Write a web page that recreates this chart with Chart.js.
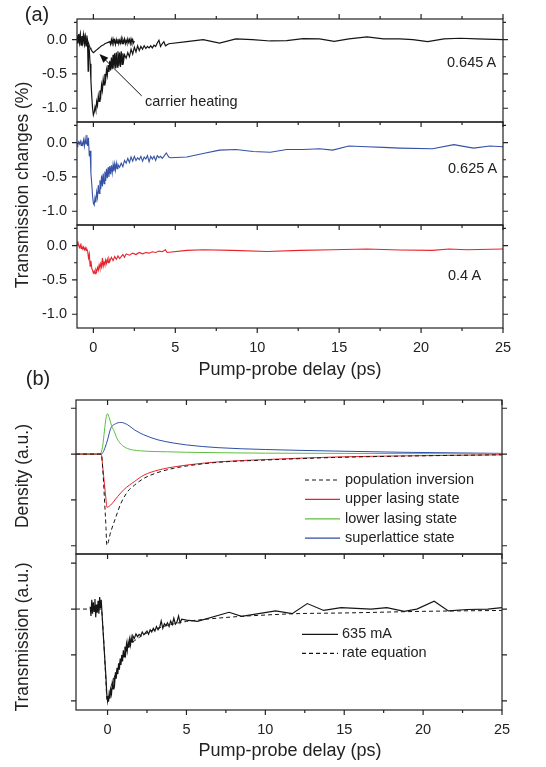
<!DOCTYPE html>
<html><head><meta charset="utf-8">
<script src="https://cdn.jsdelivr.net/npm/chart.js@4.4.1/dist/chart.umd.min.js"></script>
<style>
html,body{margin:0;padding:0;background:#fff;}
#wrap{position:relative;width:546px;height:767px;overflow:hidden;font-family:"Liberation Sans",Arial,sans-serif;color:#222;}
canvas{position:absolute;left:0;top:0;}
.t{position:absolute;white-space:nowrap;line-height:1;transform:translate(0,-50%);}
.c{position:absolute;white-space:nowrap;line-height:1;transform:translate(-50%,-50%);}
.rot{position:absolute;white-space:nowrap;line-height:1;transform:translate(-50%,-50%) rotate(-90deg);}
</style></head><body><div id="wrap">
<canvas id="cA1" width="546" height="767"></canvas>
<canvas id="cA2" width="546" height="767"></canvas>
<canvas id="cA3" width="546" height="767"></canvas>
<canvas id="cB1" width="546" height="767"></canvas>
<canvas id="cB2" width="546" height="767"></canvas>
<div class="c" style="left:37px;top:14px;font-size:20px">(a)</div>
<div class="c" style="left:38px;top:378px;font-size:20px">(b)</div>
<div class="rot" style="left:23px;top:185px;font-size:17.5px">Transmission changes (%)</div>
<div class="c" style="left:290px;top:369px;font-size:18px">Pump-probe delay (ps)</div>
<div class="rot" style="left:23px;top:476px;font-size:17.5px">Density (a.u.)</div>
<div class="rot" style="left:23px;top:637px;font-size:17.5px">Transmission (a.u.)</div>
<div class="c" style="left:290px;top:750px;font-size:18px">Pump-probe delay (ps)</div>
<div class="t" style="left:447px;top:62px;font-size:14.5px">0.645 A</div>
<div class="t" style="left:448px;top:168px;font-size:14.5px">0.625 A</div>
<div class="t" style="left:448px;top:275px;font-size:14.5px">0.4 A</div>
<div class="t" style="left:145px;top:101px;font-size:14.5px">carrier heating</div>
</div>
<script>
// ---------- tick values ----------
const xMajorTicks = [0, 5, 10, 15, 20, 25];
const xMinorTicks = [2.5, 7.5, 12.5, 17.5, 22.5];
const aYMajorTicks = [0, -0.5, -1.0];
const aYMinorTicks = [0.25, -0.25, -0.75];
const bYMajorTicks = [1, 0, -1, -2];

// ---------- series (ps, value) ----------
const a1Heating = [[-1,0.06],[-0.95,-0.05],[-0.9,0.08],[-0.85,-0.03],[-0.8,0.07],[-0.75,-0.06],[-0.7,0.05],[-0.65,-0.04],[-0.6,0.09],[-0.55,-0.05],[-0.5,0.04],[-0.45,-0.07],[-0.4,0.06],[-0.35,-0.02],[-0.3,-0.05],[-0.25,-0.09],[-0.2,-0.12],[-0.15,-0.14],[-0.1,-0.16],[-0.05,-0.18],[0,-0.19],[0.05,-0.18],[0.1,-0.17],[0.2,-0.15],[0.3,-0.13],[0.4,-0.11],[0.5,-0.09],[0.6,-0.08],[0.7,-0.06],[0.8,-0.05],[0.9,-0.04],[1.0,-0.03],[1.05,-0.07],[1.1,0.0],[1.15,-0.06],[1.2,0.01],[1.25,-0.05],[1.3,-0.01],[1.35,-0.07],[1.4,0.0],[1.45,-0.05],[1.5,0.01],[1.55,-0.06],[1.6,-0.01],[1.65,-0.05],[1.7,0.02],[1.75,-0.06],[1.8,0.0],[1.85,-0.04],[1.9,0.01],[1.95,-0.06],[2.0,-0.01],[2.05,-0.05],[2.1,0.01],[2.15,-0.04],[2.2,0.0],[2.25,-0.06],[2.3,0.01],[2.35,-0.04],[2.4,0.0],[2.45,-0.05],[2.5,-0.02]];
const a1Current645 = [[-1,0.04],[-0.95,-0.06],[-0.9,0.08],[-0.85,-0.04],[-0.8,0.06],[-0.75,-0.08],[-0.7,0.05],[-0.65,-0.03],[-0.6,0.07],[-0.55,-0.06],[-0.5,0.03],[-0.45,-0.09],[-0.4,0.02],[-0.35,-0.12],[-0.32,-0.46],[-0.3,-0.1],[-0.25,-0.15],[-0.2,-0.35],[-0.15,-0.6],[-0.1,-0.82],[-0.05,-1.0],[0,-1.1],[0.05,-1.06],[0.1,-0.98],[0.15,-1.03],[0.2,-0.9],[0.25,-0.96],[0.3,-0.82],[0.35,-0.9],[0.4,-0.74],[0.45,-0.82],[0.5,-0.66],[0.55,-0.74],[0.6,-0.58],[0.65,-0.66],[0.7,-0.5],[0.75,-0.58],[0.8,-0.44],[0.85,-0.52],[0.9,-0.37],[0.95,-0.47],[1.0,-0.31],[1.05,-0.45],[1.1,-0.26],[1.15,-0.43],[1.2,-0.22],[1.25,-0.41],[1.3,-0.2],[1.35,-0.42],[1.4,-0.19],[1.45,-0.4],[1.5,-0.17],[1.55,-0.38],[1.6,-0.19],[1.65,-0.4],[1.7,-0.17],[1.75,-0.36],[1.8,-0.2],[1.85,-0.3],[1.9,-0.22],[2.0,-0.27],[2.1,-0.19],[2.2,-0.25],[2.3,-0.14],[2.4,-0.21],[2.5,-0.11],[2.6,-0.18],[2.7,-0.09],[2.8,-0.16],[2.9,-0.1],[3.0,-0.14],[3.1,-0.09],[3.2,-0.13],[3.3,-0.1],[3.4,-0.12],[3.5,-0.09],[3.6,-0.12],[3.7,-0.08],[3.8,-0.1],[3.9,-0.05],[4.0,-0.01],[4.1,-0.1],[4.2,-0.06],[4.3,-0.03],[4.4,-0.09],[4.6,-0.06],[5.7,-0.03],[6.7,0.0],[7.7,-0.05],[8.7,0.01],[9.7,0.0],[10.8,-0.02],[11.8,-0.015],[12.8,0.015],[13.8,0.01],[14.7,-0.025],[15.6,0.01],[16.7,0.04],[17.7,0.01],[18.7,0.01],[19.5,0.0],[20.4,-0.03],[21.4,0.01],[22.4,0.02],[23.4,0.01],[25,0.0]];
const a2Current625 = [[-1,0.0],[-0.95,-0.03],[-0.9,0.01],[-0.85,-0.02],[-0.8,0.02],[-0.75,-0.04],[-0.7,0.0],[-0.65,-0.03],[-0.6,0.04],[-0.55,-0.05],[-0.5,0.06],[-0.45,-0.02],[-0.4,0.11],[-0.35,-0.05],[-0.3,0.07],[-0.25,-0.2],[-0.2,-0.12],[-0.15,-0.45],[-0.1,-0.6],[-0.05,-0.78],[0,-0.88],[0.05,-0.91],[0.1,-0.8],[0.15,-0.87],[0.2,-0.72],[0.25,-0.8],[0.3,-0.62],[0.35,-0.74],[0.4,-0.55],[0.45,-0.68],[0.5,-0.48],[0.55,-0.64],[0.6,-0.45],[0.65,-0.6],[0.7,-0.42],[0.75,-0.56],[0.8,-0.38],[0.85,-0.52],[0.9,-0.36],[0.95,-0.5],[1.0,-0.34],[1.05,-0.46],[1.1,-0.33],[1.15,-0.44],[1.2,-0.32],[1.25,-0.42],[1.3,-0.31],[1.35,-0.4],[1.4,-0.3],[1.45,-0.38],[1.5,-0.32],[1.6,-0.36],[1.7,-0.3],[1.8,-0.35],[1.9,-0.26],[2.0,-0.3],[2.1,-0.23],[2.2,-0.29],[2.3,-0.21],[2.4,-0.27],[2.5,-0.2],[2.6,-0.26],[2.7,-0.22],[2.8,-0.25],[2.9,-0.2],[3.0,-0.27],[3.1,-0.21],[3.2,-0.24],[3.3,-0.19],[3.4,-0.28],[3.5,-0.2],[3.6,-0.24],[3.7,-0.2],[3.8,-0.26],[3.9,-0.19],[4.0,-0.22],[4.1,-0.2],[4.2,-0.23],[4.3,-0.2],[4.45,-0.15],[4.6,-0.21],[4.7,-0.22],[5.7,-0.21],[6.7,-0.16],[7.7,-0.11],[8.7,-0.1],[9.75,-0.13],[10.8,-0.14],[11.8,-0.1],[12.8,-0.1],[13.8,-0.09],[14.6,-0.11],[15.6,-0.05],[16.7,-0.06],[17.7,-0.07],[18.7,-0.08],[20.7,-0.09],[22.0,-0.03],[23.2,-0.08],[24.2,-0.05],[25,-0.06]];
const a3Current400 = [[-1,0.01],[-0.95,0.06],[-0.9,0.0],[-0.85,-0.03],[-0.8,0.01],[-0.75,-0.04],[-0.7,-0.01],[-0.65,-0.05],[-0.6,-0.02],[-0.55,-0.06],[-0.5,-0.03],[-0.45,-0.07],[-0.4,-0.05],[-0.35,-0.08],[-0.3,-0.18],[-0.25,-0.12],[-0.2,-0.3],[-0.15,-0.22],[-0.1,-0.33],[-0.05,-0.36],[0,-0.4],[0.05,-0.37],[0.1,-0.41],[0.15,-0.35],[0.2,-0.38],[0.25,-0.32],[0.3,-0.36],[0.35,-0.28],[0.4,-0.33],[0.45,-0.26],[0.5,-0.31],[0.55,-0.18],[0.6,-0.3],[0.65,-0.24],[0.7,-0.28],[0.75,-0.21],[0.8,-0.26],[0.85,-0.2],[0.9,-0.25],[0.95,-0.19],[1.0,-0.23],[1.1,-0.17],[1.2,-0.22],[1.3,-0.16],[1.4,-0.2],[1.5,-0.15],[1.6,-0.19],[1.7,-0.16],[1.8,-0.13],[1.9,-0.17],[2.0,-0.12],[2.2,-0.14],[2.4,-0.11],[2.6,-0.13],[2.8,-0.1],[3.0,-0.12],[3.2,-0.1],[3.4,-0.11],[3.6,-0.09],[3.8,-0.1],[4.0,-0.08],[4.2,-0.09],[4.4,-0.06],[4.5,-0.1],[5.7,-0.07],[6.7,-0.06],[8.5,-0.07],[10.6,-0.085],[12.6,-0.07],[14.6,-0.06],[16.7,-0.05],[18.7,-0.065],[20.7,-0.07],[21.7,-0.05],[22.8,-0.06],[25,-0.05]];

const bInversion = [[-2,0],[-0.4,0],[-0.3,-0.35],[-0.2,-0.95],[-0.1,-1.6],[-0.05,-1.99],[0.2,-1.7],[0.53,-1.37],[0.84,-1.08],[1.27,-0.82],[1.7,-0.68],[2.3,-0.53],[3.2,-0.4],[4.2,-0.31],[5,-0.26],[7,-0.18],[10,-0.13],[14.3,-0.075],[18.6,-0.045],[25,-0.015]];
const bUpper = [[-2,0],[-0.4,0],[-0.3,-0.3],[-0.2,-0.65],[-0.1,-0.98],[-0.04,-1.16],[0.2,-1.11],[0.63,-0.93],[1.05,-0.77],[1.7,-0.6],[2.3,-0.46],[3.2,-0.35],[4.2,-0.28],[5,-0.24],[7,-0.17],[10,-0.12],[14.3,-0.065],[18.6,-0.04],[25,-0.015]];
const bLower = [[-2,0],[-0.5,0],[-0.4,0.04],[-0.3,0.2],[-0.2,0.5],[-0.1,0.78],[0,0.88],[0.1,0.8],[0.2,0.68],[0.3,0.58],[0.42,0.5],[0.6,0.34],[0.84,0.22],[1.05,0.16],[1.27,0.12],[1.6,0.09],[2.1,0.07],[3,0.055],[3.8,0.05],[5,0.04],[7,0.03],[10,0.02],[15,0.015],[20,0.01],[25,0.005]];
const bSuperlattice = [[-2,0],[-0.4,0],[-0.3,0.03],[-0.15,0.15],[0,0.31],[0.2,0.56],[0.5,0.66],[0.84,0.69],[1.27,0.64],[1.7,0.53],[2.3,0.42],[3.2,0.31],[4.2,0.24],[5,0.2],[7,0.14],[10,0.1],[14.4,0.066],[18.6,0.04],[25,0.015]];

const b2Measured = [[-1.1,0.05],[-1.05,-0.15],[-1.0,0.2],[-0.95,-0.1],[-0.9,0.15],[-0.85,-0.05],[-0.8,0.22],[-0.75,-0.18],[-0.7,0.1],[-0.65,-0.08],[-0.6,0.18],[-0.55,-0.1],[-0.5,0.26],[-0.45,0.02],[-0.4,0.2],[-0.3,-0.4],[-0.2,-0.95],[-0.1,-1.5],[-0.05,-1.85],[0,-2.0],[0.03,-1.9],[0.06,-2.02],[0.1,-1.85],[0.15,-1.95],[0.2,-1.75],[0.25,-1.85],[0.3,-1.62],[0.35,-1.74],[0.4,-1.5],[0.45,-1.62],[0.5,-1.38],[0.55,-1.52],[0.6,-1.28],[0.65,-1.42],[0.7,-1.18],[0.75,-1.32],[0.8,-1.08],[0.85,-1.22],[0.9,-1.0],[0.95,-1.14],[1.0,-0.9],[1.05,-1.04],[1.1,-0.82],[1.15,-0.96],[1.2,-0.76],[1.25,-0.9],[1.3,-0.72],[1.35,-0.84],[1.4,-0.66],[1.45,-0.78],[1.5,-0.62],[1.55,-0.72],[1.6,-0.58],[1.7,-0.64],[1.8,-0.54],[1.9,-0.6],[2.0,-0.55],[2.1,-0.58],[2.2,-0.5],[2.3,-0.56],[2.4,-0.52],[2.5,-0.48],[2.6,-0.55],[2.7,-0.45],[2.8,-0.5],[2.9,-0.42],[3.0,-0.48],[3.1,-0.38],[3.2,-0.45],[3.3,-0.4],[3.4,-0.26],[3.5,-0.42],[3.6,-0.32],[3.7,-0.36],[3.8,-0.3],[3.9,-0.38],[4.0,-0.26],[4.1,-0.34],[4.2,-0.2],[4.3,-0.33],[4.4,-0.28],[4.5,-0.15],[4.6,-0.3],[4.7,-0.22],[5.0,-0.24],[5.7,-0.27],[7.7,-0.07],[8.5,-0.16],[10.65,-0.04],[11.7,-0.1],[12.66,0.12],[13.7,-0.03],[14.8,0.03],[16.7,0.0],[17.7,0.03],[18.8,-0.05],[19.6,0.0],[20.7,0.17],[21.6,-0.04],[22.8,-0.01],[24.1,0.0],[25,0.03]];
const b2RateEquation = [[-2,0],[-0.4,0],[-0.3,-0.35],[-0.2,-0.95],[-0.1,-1.6],[-0.03,-2.0],[0.2,-1.72],[0.5,-1.42],[1.0,-1.02],[1.5,-0.76],[2.0,-0.62],[2.5,-0.52],[3.0,-0.44],[4.0,-0.34],[5.0,-0.27],[6.0,-0.23],[8.0,-0.17],[10.0,-0.13],[12.0,-0.1],[15.0,-0.085],[20.0,-0.05],[25.0,-0.03]];

// ---------- drawing ----------
const W = 546, H = 767;
const FONT = '"Liberation Sans", Arial, sans-serif';
Chart.defaults.font.family = FONT;
const AXIS = '#222';
const pts = arr => arr.map(p => ({x: p[0], y: p[1]}));

const framePlugin = {
  id: 'frame',
  afterDatasetsDraw(chart, args, o) {
    if (!o || !o.on) return;
    const ctx = chart.ctx, a = chart.chartArea, sx = chart.scales.x, sy = chart.scales.y;
    ctx.save();
    ctx.strokeStyle = AXIS; ctx.lineWidth = 1.2;
    ctx.strokeRect(a.left, a.top, a.right - a.left, a.bottom - a.top);
    ctx.beginPath();
    const xt = (list, len) => list.forEach(v => {
      const px = sx.getPixelForValue(v);
      ctx.moveTo(px, a.bottom); ctx.lineTo(px, a.bottom + len);
      if (o.top === 'out') { ctx.moveTo(px, a.top); ctx.lineTo(px, a.top - len); }
      if (o.top === 'in') { ctx.moveTo(px, a.top); ctx.lineTo(px, a.top + len); }
    });
    xt(xMajorTicks, 5); xt(xMinorTicks, 3);
    const yt = (list, len) => list.forEach(v => {
      const py = sy.getPixelForValue(v);
      ctx.moveTo(a.left, py); ctx.lineTo(a.left - len, py);
      ctx.moveTo(a.right, py); ctx.lineTo(a.right + len, py);
    });
    yt(o.yMajor, 5); yt(o.yMinor || [], 3);
    ctx.stroke();
    // arrow annotation (data coordinates)
    if (o.arrow) {
      const [x0, y0, x1, y1] = o.arrow;
      const p0 = [sx.getPixelForValue(x0), sy.getPixelForValue(y0)];
      const p1 = [sx.getPixelForValue(x1), sy.getPixelForValue(y1)];
      const ang = Math.atan2(p1[1] - p0[1], p1[0] - p0[0]);
      ctx.strokeStyle = '#111'; ctx.fillStyle = '#111'; ctx.lineWidth = 1;
      ctx.beginPath(); ctx.moveTo(p0[0], p0[1]);
      ctx.lineTo(p1[0] - 7 * Math.cos(ang), p1[1] - 7 * Math.sin(ang)); ctx.stroke();
      ctx.beginPath(); ctx.moveTo(p1[0], p1[1]);
      ctx.lineTo(p1[0] - 9 * Math.cos(ang) + 3.5 * Math.sin(ang), p1[1] - 9 * Math.sin(ang) - 3.5 * Math.cos(ang));
      ctx.lineTo(p1[0] - 9 * Math.cos(ang) - 3.5 * Math.sin(ang), p1[1] - 9 * Math.sin(ang) + 3.5 * Math.cos(ang));
      ctx.closePath(); ctx.fill();
    }
    // legend
    if (o.legend) {
      const L = o.legend;
      ctx.font = '14.5px ' + FONT; ctx.textBaseline = 'middle'; ctx.fillStyle = '#222';
      chart.data.datasets.forEach((d, i) => {
        const y = L.y + i * L.dy;
        ctx.beginPath(); ctx.strokeStyle = d.borderColor; ctx.lineWidth = 1.2;
        ctx.setLineDash(d.borderDash || []);
        ctx.moveTo(L.x, y); ctx.lineTo(L.x + L.len, y); ctx.stroke();
        ctx.setLineDash([]);
        ctx.fillText(d.label, L.x + L.len + L.gap, y);
      });
    }
    ctx.restore();
  }
};

function makePanel(id, c) {
  const xh = c.showX ? 30 : 0;
  return new Chart(document.getElementById(id), {
    type: 'line',
    data: { datasets: c.datasets },
    options: {
      responsive: false, animation: false, devicePixelRatio: 1,
      layout: { padding: { top: c.top, left: 0, right: W - c.right, bottom: H - c.bottom - xh } },
      plugins: { legend: { display: false }, tooltip: { enabled: false }, frame: c.frame },
      elements: { point: { radius: 0 }, line: { borderWidth: 1, tension: 0 } },
      scales: {
        x: {
          type: 'linear', min: c.xMin, max: c.xMax, display: c.showX,
          grid: { display: false, drawTicks: false }, border: { display: false },
          afterBuildTicks: s => { s.ticks = xMajorTicks.map(v => ({ value: v })); },
          afterFit: s => { s.height = xh; },
          ticks: { padding: 11, color: AXIS, font: { size: 14.5 }, maxRotation: 0, autoSkip: false, callback: v => String(v) }
        },
        y: {
          type: 'linear', min: c.yMin, max: c.yMax, display: true,
          grid: { display: false, drawTicks: false }, border: { display: false },
          afterBuildTicks: s => { s.ticks = c.frame.yMajor.map(v => ({ value: v })); },
          afterFit: s => { s.width = c.left; },
          ticks: { display: c.yLabels, padding: 10, color: AXIS, font: { size: 14.5 }, autoSkip: false, callback: v => v.toFixed(1) }
        }
      }
    },
    plugins: [framePlugin]
  });
}

const BLACK = '#151515', BLUE = '#3552a6', RED = '#e8232b', GREEN = '#5cbf3c', BLUE2 = '#2f4ea6';

makePanel('cA1', { top: 19, bottom: 122, left: 77, right: 503, xMin: -1, xMax: 25, yMin: -1.2, yMax: 0.3, showX: false, yLabels: true,
  frame: { on: true, top: 'out', yMajor: aYMajorTicks, yMinor: aYMinorTicks, arrow: [2.95, -0.82, 0.37, -0.21] },
  datasets: [
    { label: 'carrier heating', data: pts(a1Heating), borderColor: BLACK, borderWidth: 1.2 },
    { label: '0.645 A', data: pts(a1Current645), borderColor: BLACK, borderWidth: 1.2 }
  ] });
makePanel('cA2', { top: 122, bottom: 225, left: 77, right: 503, xMin: -1, xMax: 25, yMin: -1.2, yMax: 0.3, showX: false, yLabels: true,
  frame: { on: true, top: 'none', yMajor: aYMajorTicks, yMinor: aYMinorTicks },
  datasets: [ { label: '0.625 A', data: pts(a2Current625), borderColor: BLUE, borderWidth: 1.1 } ] });
makePanel('cA3', { top: 225, bottom: 328, left: 77, right: 503, xMin: -1, xMax: 25, yMin: -1.2, yMax: 0.3, showX: true, yLabels: true,
  frame: { on: true, top: 'none', yMajor: aYMajorTicks, yMinor: aYMinorTicks },
  datasets: [ { label: '0.4 A', data: pts(a3Current400), borderColor: RED, borderWidth: 1.1 } ] });
makePanel('cB1', { top: 400, bottom: 554, left: 76, right: 502, xMin: -2, xMax: 25, yMin: -2.18, yMax: 1.18, showX: false, yLabels: false,
  frame: { on: true, top: 'in', yMajor: bYMajorTicks, legend: { x: 305, y: 480, dy: 19.4, len: 35, gap: 5 } },
  datasets: [
    { label: 'population inversion', data: pts(bInversion), borderColor: BLACK, borderDash: [4, 3], cubicInterpolationMode: 'monotone' },
    { label: 'upper lasing state', data: pts(bUpper), borderColor: RED, cubicInterpolationMode: 'monotone' },
    { label: 'lower lasing state', data: pts(bLower), borderColor: GREEN, cubicInterpolationMode: 'monotone' },
    { label: 'superlattice state', data: pts(bSuperlattice), borderColor: BLUE2, cubicInterpolationMode: 'monotone' }
  ] });
makePanel('cB2', { top: 554, bottom: 710, left: 76, right: 502, xMin: -2, xMax: 25, yMin: -2.2, yMax: 1.2, showX: true, yLabels: false,
  frame: { on: true, top: 'none', yMajor: bYMajorTicks, legend: { x: 302, y: 634.3, dy: 19, len: 36, gap: 4 } },
  datasets: [
    { label: '635 mA', data: pts(b2Measured), borderColor: BLACK, borderWidth: 1.2 },
    { label: 'rate equation', data: pts(b2RateEquation), borderColor: BLACK, borderDash: [4, 3], cubicInterpolationMode: 'monotone' }
  ] });
</script>
</body></html>
